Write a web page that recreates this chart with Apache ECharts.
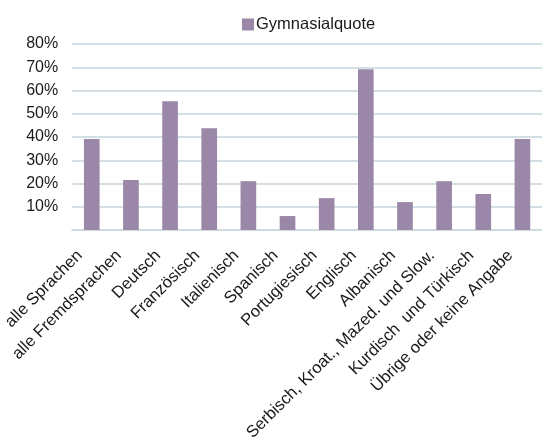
<!DOCTYPE html>
<html>
<head>
<meta charset="utf-8">
<script src="https://cdn.jsdelivr.net/npm/echarts@6/dist/echarts.min.js"></script>
<style>html,body{margin:0;padding:0;background:#fff}#c{width:542px;height:446px}</style>
</head>
<body>
<div id="c"></div>
<script>
var categories = ["alle Sprachen","alle Fremdsprachen","Deutsch","Französisch","Italienisch","Spanisch","Portugiesisch","Englisch","Albanisch","Serbisch, Kroat., Mazed. und Slow.","Kurdisch  und Türkisch","Übrige oder keine Angabe"];
var gymnasialquote = [39.1, 21.5, 55.4, 43.8, 21.0, 6.0, 13.7, 69.1, 12.0, 21.0, 15.5, 39.1];
var yTicks = [0, 10, 20, 30, 40, 50, 60, 70, 80];

var chart = echarts.init(document.getElementById('c'));
var font = 'Liberation Sans, Arial, sans-serif';
chart.setOption({
  animation: false,
  textStyle: {fontFamily: font},
  legend: {
    data: ['Gymnasialquote'],
    left: 237, top: 11,
    itemWidth: 12, itemHeight: 12, itemGap: 4,
    icon: 'rect',
    textStyle: {fontSize: 16.5, color: '#1a1a1a', fontFamily: font, padding: [0,0,0,-3]}
  },
  grid: {left: 72, right: -3, top: 44, bottom: 216, containLabel: false},
  xAxis: {
    type: 'category',
    data: categories,
    axisTick: {show: false},
    axisLine: {lineStyle: {color: '#cfdbe1', width: 2}},
    axisLabel: {rotate: 45, interval: 0, fontSize: 16.6, color: '#1a1a1a', fontFamily: font, margin: 11, padding: [0, 17, 0, 0]}
  },
  yAxis: {
    type: 'value',
    min: yTicks[0], max: yTicks[yTicks.length-1], interval: 10,
    axisLine: {show: false},
    axisTick: {show: false},
    splitLine: {lineStyle: {color: '#d3dfe4', width: 2}},
    axisLabel: {
      fontSize: 16, color: '#1a1a1a', fontFamily: font, margin: 14,
      formatter: function (v) { return v === 0 ? '' : v + '%'; }
    }
  },
  series: [{
    name: 'Gymnasialquote',
    type: 'bar',
    data: gymnasialquote,
    barWidth: '40%',
    itemStyle: {color: '#9b87a8'}
  }]
});
</script>
</body>
</html>
